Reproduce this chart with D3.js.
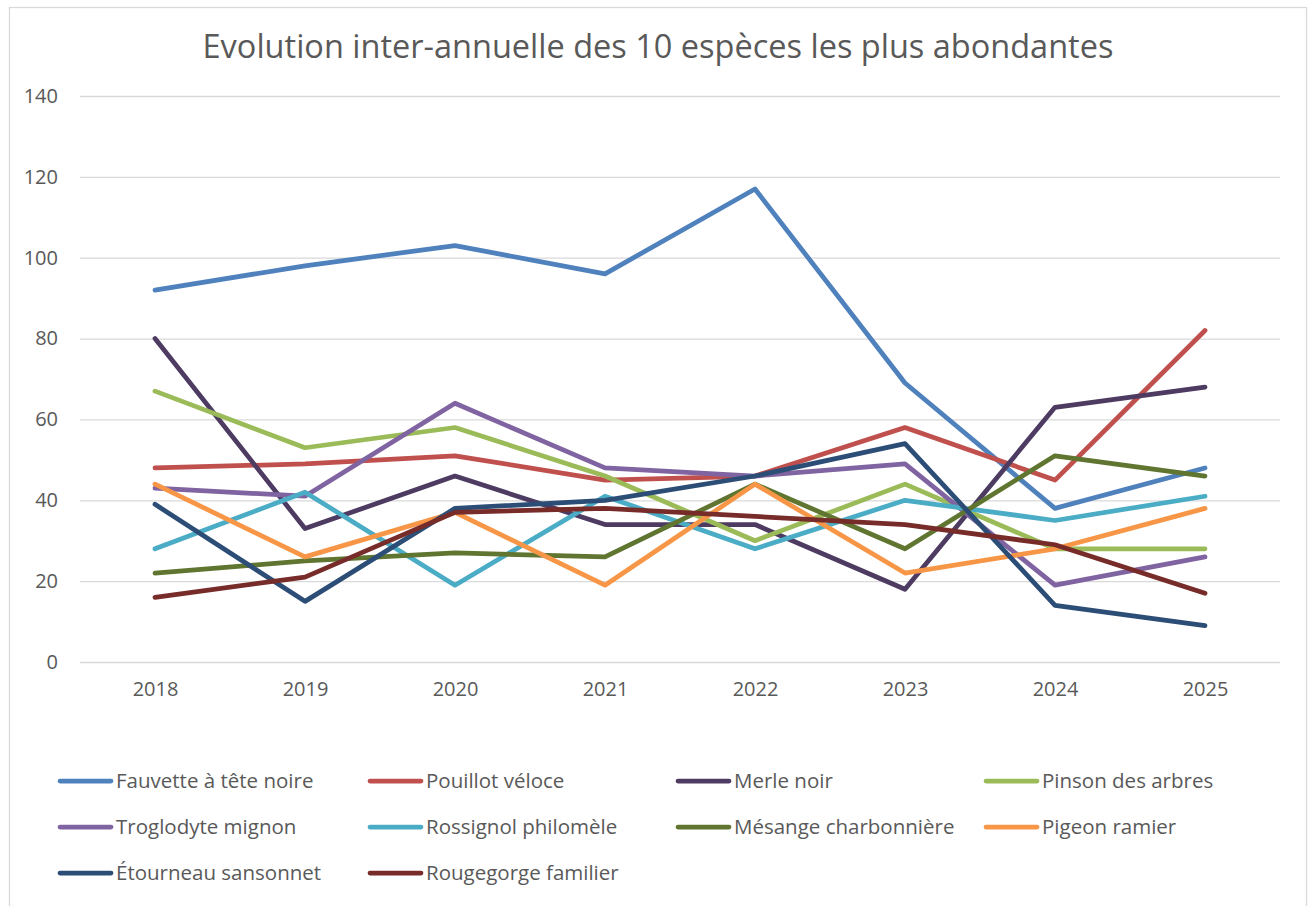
<!DOCTYPE html>
<html>
<head>
<meta charset="utf-8">
<script src="https://cdn.jsdelivr.net/npm/d3@7"></script>
<style>
  body { margin: 0; background: #fff; }
  svg text { font-family: "Open Sans", Lato, sans-serif; fill: #595959; }
</style>
</head>
<body>
<div id="chart"></div>
<script>
const years = ["2018", "2019", "2020", "2021", "2022", "2023", "2024", "2025"];
const species = [
  "Fauvette à tête noire", "Pouillot véloce", "Merle noir", "Pinson des arbres",
  "Troglodyte mignon", "Rossignol philomèle", "Mésange charbonnière", "Pigeon ramier",
  "Étourneau sansonnet", "Rougegorge familier"
];
const fauvette   = [92, 98, 103, 96, 117, 69, 38, 48];
const pouillot   = [48, 49, 51, 45, 46, 58, 45, 82];
const merle      = [80, 33, 46, 34, 34, 18, 63, 68];
const pinson     = [67, 53, 58, 46, 30, 44, 28, 28];
const troglodyte = [43, 41, 64, 48, 46, 49, 19, 26];
const rossignol  = [28, 42, 19, 41, 28, 40, 35, 41];
const mesange    = [22, 25, 27, 26, 44, 28, 51, 46];
const pigeon     = [44, 26, 37, 19, 44, 22, 28, 38];
const etourneau  = [39, 15, 38, 40, 46, 54, 14, 9];
const rougegorge = [16, 21, 37, 38, 36, 34, 29, 17];
const yTicks = [0, 20, 40, 60, 80, 100, 120, 140];

const colors = ["#4F81BD", "#C0504D", "#4D3B62", "#9BBB59", "#8064A2",
                "#4BACC6", "#5F7530", "#F79646", "#2C4D75", "#772C2A"];
const seriesValues = [fauvette, pouillot, merle, pinson, troglodyte,
                      rossignol, mesange, pigeon, etourneau, rougegorge];
const series = species.map((name, i) => ({ name, color: colors[i], values: seriesValues[i] }));

const W = 1311, H = 906;
const plot = { left: 80, right: 1280, top: 96, bottom: 662 };
const font = "'Open Sans', Lato, sans-serif";

const svg = d3.select("#chart").append("svg").attr("width", W).attr("height", H);

// chart frame
svg.append("rect")
  .attr("x", 9.5).attr("y", 7.5)
  .attr("width", 1297).attr("height", 910)
  .attr("fill", "#fff").attr("stroke", "#D9D9D9").attr("stroke-width", 1.3);

// title
svg.append("text")
  .attr("x", 658).attr("y", 58)
  .attr("text-anchor", "middle")
  .attr("font-size", "32.5px")
  .text("Evolution inter-annuelle des 10 espèces les plus abondantes");

const x = d3.scalePoint().domain(years).range([plot.left, plot.right]).padding(0.5);
const y = d3.scaleLinear().domain([0, 140]).range([plot.bottom, plot.top]);

// y gridlines + labels
svg.append("g")
  .attr("transform", `translate(${plot.left},0)`)
  .call(d3.axisLeft(y).tickValues(yTicks).tickSize(-(plot.right - plot.left)).tickPadding(22))
  .call((g) => g.select(".domain").remove())
  .call((g) => g.selectAll(".tick line").attr("stroke", "#D9D9D9").attr("stroke-width", 1.3))
  .call((g) => g.selectAll(".tick text").attr("font-size", "20px").attr("fill", "#595959")
    .style("font-family", font));

// x labels
svg.append("g")
  .attr("transform", `translate(0,${plot.bottom})`)
  .call(d3.axisBottom(x).tickSize(0).tickPadding(20))
  .call((g) => g.select(".domain").remove())
  .call((g) => g.selectAll(".tick text").attr("font-size", "20px").attr("fill", "#595959")
    .style("font-family", font));

// lines
const line = d3.line().x((d, i) => x(years[i])).y((d) => y(d));
svg.append("g").selectAll("path")
  .data(series)
  .join("path")
  .attr("d", (d) => line(d.values))
  .attr("fill", "none")
  .attr("stroke", (d) => d.color)
  .attr("stroke-width", 4.75)
  .attr("stroke-linecap", "round")
  .attr("stroke-linejoin", "round");

// legend (4 columns)
const legendCols = [58, 368, 676, 984];
const legendRows = [781, 827, 873];
const legend = svg.append("g").selectAll("g")
  .data(series)
  .join("g")
  .attr("transform", (d, i) => `translate(${legendCols[i % 4]},${legendRows[Math.floor(i / 4)]})`);
legend.append("line")
  .attr("x1", 2).attr("x2", 53)
  .attr("stroke", (d) => d.color)
  .attr("stroke-width", 4.75)
  .attr("stroke-linecap", "round");
legend.append("text")
  .attr("x", 58).attr("dy", "0.35em")
  .attr("font-size", "20.5px")
  .text((d) => d.name);
</script>
</body>
</html>
